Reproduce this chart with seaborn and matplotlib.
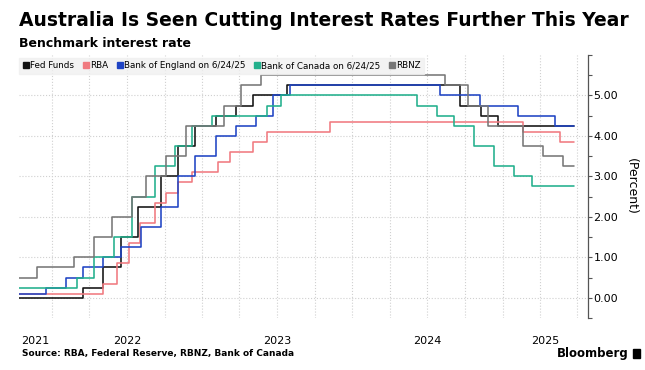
import matplotlib
matplotlib.use('Agg')
import matplotlib.pyplot as plt
from matplotlib.lines import Line2D
from matplotlib.ticker import MultipleLocator, FormatStrFormatter
import pandas as pd
import seaborn as sns

# ---- data: policy rate change dates and levels ----
start_date = '2021-10-12'
end_date = '2025-06-24'

fed_dates = [start_date, '2022-03-17', '2022-05-05', '2022-06-16', '2022-07-28', '2022-09-22',
             '2022-11-03', '2022-12-15', '2023-02-02', '2023-03-23', '2023-05-04', '2023-07-27',
             '2024-09-19', '2024-11-08', '2024-12-19', end_date]
fed_rates = [0.0, 0.25, 0.75, 1.50, 2.25, 3.00, 3.75, 4.25, 4.50, 4.75, 5.00, 5.25,
             4.75, 4.50, 4.25, 4.25]

rba_dates = [start_date, '2022-05-04', '2022-06-08', '2022-07-06', '2022-08-03', '2022-09-07',
             '2022-10-05', '2022-11-02', '2022-12-07', '2023-02-08', '2023-03-08', '2023-05-03',
             '2023-06-07', '2023-11-08', '2025-02-19', '2025-05-21', end_date]
rba_rates = [0.10, 0.35, 0.85, 1.35, 1.85, 2.35, 2.60, 2.85, 3.10, 3.35, 3.60, 3.85,
             4.10, 4.35, 4.10, 3.85, 3.85]

boe_dates = [start_date, '2021-12-16', '2022-02-03', '2022-03-17', '2022-05-05', '2022-06-16',
             '2022-08-04', '2022-09-22', '2022-11-03', '2022-12-15', '2023-02-02', '2023-03-23',
             '2023-05-11', '2023-06-22', '2023-08-03', '2024-08-01', '2024-11-07', '2025-02-06',
             '2025-05-08', end_date]
boe_rates = [0.10, 0.25, 0.50, 0.75, 1.00, 1.25, 1.75, 2.25, 3.00, 3.50, 4.00, 4.25,
             4.50, 5.00, 5.25, 5.00, 4.75, 4.50, 4.25, 4.25]

boc_dates = [start_date, '2022-03-02', '2022-04-13', '2022-06-01', '2022-07-13', '2022-09-07',
             '2022-10-26', '2022-12-07', '2023-01-25', '2023-06-07', '2023-07-12', '2024-06-05',
             '2024-07-24', '2024-09-04', '2024-10-23', '2024-12-11', '2025-01-29', '2025-03-12',
             end_date]
boc_rates = [0.25, 0.50, 1.00, 1.50, 2.50, 3.25, 3.75, 4.25, 4.50, 4.75, 5.00, 4.75,
             4.50, 4.25, 3.75, 3.25, 3.00, 2.75, 2.75]

rbnz_dates = [start_date, '2021-11-24', '2022-02-23', '2022-04-13', '2022-05-25', '2022-07-13',
              '2022-08-17', '2022-10-05', '2022-11-23', '2023-02-22', '2023-04-05', '2023-05-24',
              '2024-08-14', '2024-10-09', '2024-11-27', '2025-02-19', '2025-04-09', '2025-05-28',
              end_date]
rbnz_rates = [0.50, 0.75, 1.00, 1.50, 2.00, 2.50, 3.00, 3.50, 4.25, 4.75, 5.25, 5.50,
              5.25, 4.75, 4.25, 3.75, 3.50, 3.25, 3.25]

series_names = ['Fed Funds', 'RBA', 'Bank of England on 6/24/25', 'Bank of Canada on 6/24/25', 'RBNZ']
series_colors = ['#111111', '#f07a80', '#1f44c4', '#22b08c', '#777777']
year_labels = ['2021', '2022', '2023', '2024', '2025']

frames = []
for name, d, r in zip(series_names,
                      [fed_dates, rba_dates, boe_dates, boc_dates, rbnz_dates],
                      [fed_rates, rba_rates, boe_rates, boc_rates, rbnz_rates]):
    frames.append(pd.DataFrame({'date': pd.to_datetime(d), 'rate': r, 'series': name}))
df = pd.concat(frames, ignore_index=True)

# ---- plot ----
sns.set_style('white')
plt.rcParams['font.family'] = ['DejaVu Sans']
plt.rcParams['text.color'] = 'black'
plt.rcParams['axes.labelcolor'] = 'black'
plt.rcParams['xtick.color'] = 'black'
plt.rcParams['ytick.color'] = 'black'

fig = plt.figure(figsize=(6.45, 3.70), dpi=100)
ax = fig.add_axes([0.0295, 0.1405, 0.8821, 0.7109])

palette = dict(zip(series_names, series_colors))
for name in series_names:
    sub = df[df['series'] == name]
    sns.lineplot(data=sub, x='date', y='rate', color=palette[name], lw=1.15,
                 drawstyle='steps-post', ax=ax, legend=False)

x_lo = pd.Timestamp('2021-10-12')
x_hi = pd.Timestamp('2025-07-27')
ax.set_xlim(x_lo, x_hi)
ax.set_ylim(-0.5, 6.0)

# y axis on the right
ax.yaxis.tick_right()
ax.yaxis.set_label_position('right')
ax.yaxis.set_major_locator(MultipleLocator(1.0))
ax.yaxis.set_minor_locator(MultipleLocator(0.5))
ax.yaxis.set_major_formatter(FormatStrFormatter('%.2f'))
ax.tick_params(axis='y', which='both', direction='out', length=3, width=0.8,
               color='#555555', labelsize=8, pad=1)
ax.set_ylabel('(Percent)', rotation=270, labelpad=14, fontsize=9)
ax.set_yticks([0, 1, 2, 3, 4, 5])

# x axis: quarterly grid, year labels centred on visible span
quarters = pd.date_range('2022-01-01', '2025-07-01', freq='QS')
ax.set_xticks(quarters)
ax.set_xticklabels([])
ax.tick_params(axis='x', which='major', length=0)
label_pos = []
bounds = [x_lo] + [pd.Timestamp(f'{y}-01-01') for y in range(2022, 2026)] + [x_hi]
for i in range(len(year_labels)):
    a, b = bounds[i], bounds[i + 1]
    label_pos.append(a + (b - a) / 2)
ax.set_xticks(label_pos, minor=True)
ax.set_xticklabels(year_labels, minor=True)
ax.tick_params(axis='x', which='minor', length=0, labelsize=8, pad=13)
ax.set_xlabel('')

ax.grid(True, which='major', color='#d0d0d0', linestyle=':', linewidth=0.8)
for s in ['top', 'left', 'bottom']:
    ax.spines[s].set_visible(False)
ax.spines['right'].set_color('#555555')
ax.spines['right'].set_linewidth(0.9)

# legend
handles = [Line2D([], [], marker='s', linestyle='none', color=c, markersize=5)
           for c in series_colors]
leg = ax.legend(handles, series_names, loc='upper left', bbox_to_anchor=(0.0, 0.99),
                ncol=5, fontsize=6.3, frameon=True, fancybox=False, handletextpad=0.1,
                columnspacing=0.9, handlelength=0.8, borderpad=0.4, borderaxespad=0.0)
leg.get_frame().set_facecolor('#f0f0f0')
leg.get_frame().set_edgecolor('#f0f0f0')

# titles and footer
fig.text(0.0295, 0.945, 'Australia Is Seen Cutting Interest Rates Further This Year',
         fontsize=13.5, fontweight='bold', ha='left', va='center')
fig.text(0.0295, 0.882, 'Benchmark interest rate', fontsize=9, fontweight='bold',
         ha='left', va='center')
fig.text(0.034, 0.045, 'Source: RBA, Federal Reserve, RBNZ, Bank of Canada', fontsize=6.5,
         fontweight='bold', ha='left', va='center')
fig.text(0.975, 0.045, 'Bloomberg', fontsize=8.5, fontweight='bold', ha='right', va='center')
fig.patches.append(plt.Rectangle((0.981, 0.033), 0.012, 0.024, transform=fig.transFigure,
                                 color='black'))

plt.savefig('out.png', dpi=100)
